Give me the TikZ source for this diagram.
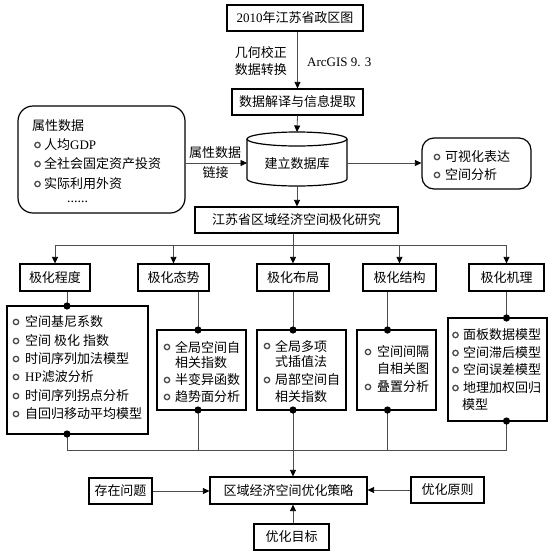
\documentclass[tikz,border=0pt]{standalone}
\usepackage{fontspec}
\setmainfont{Noto Sans CJK SC}
\newfontfamily\latf{Liberation Serif}
\usetikzlibrary{arrows.meta}
\newcommand\Lt[1]{{\latf #1}}
\begin{document}
\begin{tikzpicture}[x=1pt,y=-1pt,
  every node/.style={font=\fontsize{13}{15}\selectfont, inner sep=0pt},
  box/.style={draw=black, line width=1.2pt, minimum height=26pt},
  rbox/.style={box, rounded corners=15pt},
  shp/.style={draw=black, line width=1.2pt},
  conn/.style={draw=black!70, line width=0.8pt},
  arr/.style={conn, -{Triangle[length=6.5pt,width=6pt,color=black]}},
  bul/.style={draw=black!70, line width=1.3pt},
  txt/.style={anchor=west}
  ]
\fill[white] (0,0) rectangle (555,558);
\useasboundingbox (0,0) rectangle (555,558);

% top part
\node[box, minimum width=136pt] (top) at (295,18) {\Lt{2010}年江苏省政区图};
\node[box, minimum width=131pt] (dec) at (297.5,102) {数据解译与信息提取};
\node[anchor=east] (lab1) at (287,53) {几何校正};
\node[anchor=east] (lab2) at (287,70) {数据转换};
\node[anchor=west] (lab3) at (307,62) {\Lt{ArcGIS 9. 3}};
\draw[arr] (dec.north |- top.south) -- (dec.north);

% database cylinder
\node[minimum width=100pt, minimum height=54pt] (db) at (297,159) {};
\draw[shp] (247,139) -- (247,179) arc[start angle=180,end angle=0,x radius=50,y radius=7] -- (347,139);
\draw[shp] (297,139) ellipse [x radius=50, y radius=7];
\node (dbt) at (297,164) {建立数据库};
\coordinate (dbtop) at (297,132);
\coordinate (dbbot) at (297,186);
\coordinate (dbl) at (247,163);
\coordinate (dbr) at (347,163);
\draw[arr] (dec.south) -- (dbtop);

% attribute data box
\node[rbox, minimum width=167pt, minimum height=107pt] (attr) at (101.5,159.5) {};
\node[txt] (a0) at (32,126) {属性数据};
\foreach \y/\t [count=\i] in {145/人均\Lt{GDP}, 164/全社会固定资产投资, 184/实际利用外资}{
  \draw[bul] (37.5,\y) circle (2.7);
  \node[txt] (a\i) at (44,\y) {\t};
}
\node[anchor=base west] (adots) at (67,202) {\Lt{\fontsize{14}{15}\selectfont ......}};
\draw[arr] (attr.east |- dbl) -- (dbl);
\node (l4) at (215,153) {属性数据};
\node (l5) at (215.5,173) {链接};

% visualisation box
\node[rbox, rounded corners=12pt, minimum width=109pt, minimum height=51pt] (vis) at (476.5,163.5) {};
\foreach \y/\t [count=\i] in {157/可视化表达, 175/空间分析}{
  \draw[bul] (437,\y) circle (2.7);
  \node[txt] (v\i) at (445,\y) {\t};
}
\draw[arr] (dbr) -- (vis.west |- dbr);

% research box
\node[box, minimum width=203pt] (res) at (296.5,220) {江苏省区域经济空间极化研究};
\draw[arr] (dbbot) -- (dbbot |- res.north);
\coordinate (hub) at (293,245);
\draw[conn] (hub |- res.south) -- (hub);

% level 2
\node[box, minimum width=70pt, minimum height=27pt] (k1) at (55,277.5) {极化程度};
\node[box, minimum width=71pt, minimum height=27pt] (k2) at (173.5,277.5) {极化态势};
\node[box, minimum width=72pt, minimum height=27pt] (k3) at (293,277.5) {极化布局};
\node[box, minimum width=73pt, minimum height=27pt] (k4) at (399.5,277.5) {极化结构};
\node[box, minimum width=75pt, minimum height=27pt] (k5) at (506.5,277.5) {极化机理};
\draw[conn] (k1.north |- hub) -- (k5.north |- hub);
\foreach \k in {k1,k2,k3,k4,k5}{ \draw[arr] (\k.north |- hub) -- (\k.north); }

% detail boxes
\node[box, minimum width=141pt, minimum height=128pt] (d1) at (77.5,370) {};
\node[box, minimum width=89pt, minimum height=80pt] (d2) at (201.5,370) {};
\node[box, minimum width=89pt, minimum height=80pt] (d3) at (301.5,370) {};
\node[box, minimum width=79pt, minimum height=80pt] (d4) at (396.5,370) {};
\node[box, minimum width=99pt, minimum height=103pt] (d5) at (497.5,369.5) {};

% items A
\foreach \y/\t [count=\i] in {322/空间基尼系数, 341/空间 极化 指数, 359/时间序列加法模型, 377/\Lt{HP}滤波分析, 396/时间序列拐点分析, 414/自回归移动平均模型}{
  \draw[bul] (16,\y) circle (2.7);
  \node[txt] (e1\i) at (25,\y) {\t};
}
% items B
\foreach \y/\t [count=\i] in {347/全局空间自, 380/半变异函数, 397/趋势面分析}{
  \draw[bul] (167,\y) circle (2.7);
  \node[txt] (e2\i) at (175,\y) {\t};
}
\node[txt] (e2x) at (175,363) {相关指数};
% items C
\foreach \y/\t [count=\i] in {346/全局多项, 380/局部空间自}{
  \draw[bul] (267,\y) circle (2.7);
  \node[txt] (e3\i) at (275,\y) {\t};
}
\node[txt] (e3x) at (275,362) {式插值法};
\node[txt] (e3y) at (275,397) {相关指数};
% items D
\foreach \y/\t [count=\i] in {352/空间间隔, 387/叠置分析}{
  \draw[bul] (368,\y) circle (2.7);
  \node[txt] (e4\i) at (377,\y) {\t};
}
\node[txt] (e4x) at (377,369) {自相关图};
% items E
\foreach \y/\t [count=\i] in {335/面板数据模型, 353/空间滞后模型, 370/空间误差模型, 388/地理加权回归}{
  \draw[bul] (455.5,\y) circle (2.7);
  \node[txt] (e5\i) at (463,\y) {\t};
}
\node[txt] (e5x) at (462,405) {模型};

% junctions
\coordinate (t1) at (67,306);   \coordinate (b1) at (67,434);
\coordinate (t2) at (198,330);  \coordinate (b2) at (198,410);
\coordinate (t3) at (293,330);  \coordinate (b3) at (293,410);
\coordinate (t4) at (387.5,330); \coordinate (b4) at (387.5,410);
\coordinate (t5) at (506.5,318); \coordinate (b5) at (506.5,421);
\coordinate (bl) at (0,450);
\draw[conn] (t1 |- k1.south) -- (t1);
\draw[conn] (t2 |- k2.south) -- (t2);
\draw[conn] (t3 |- k3.south) -- (t3);
\draw[conn] (t4 |- k4.south) -- (t4);
\draw[conn] (t5 |- k5.south) -- (t5);

% final row
\node[box, minimum width=157pt, minimum height=27pt] (fin) at (288.5,490.5) {区域经济空间优化策略};
\node[box, minimum width=63pt] (prob) at (120.5,491) {存在问题};
\node[box, minimum width=73pt] (prin) at (447.5,490) {优化原则};
\node[box, minimum width=75pt] (goal) at (291.5,537) {优化目标};

\draw[conn] (b1) -- (b1 |- bl) -- (b5 |- bl) -- (b5);
\draw[conn] (b2) -- (b2 |- bl);
\draw[conn] (b4) -- (b4 |- bl);
\draw[arr] (b3) -- (b3 |- fin.north);
\draw[arr] (prob.east) -- (fin.west |- prob.east);
\draw[arr] (prin.west) -- (fin.east |- prin.west);
\draw[arr] (b3 |- goal.north) -- (b3 |- fin.south);

\foreach \p in {t1,t2,t3,t4,t5,b1,b2,b3,b4,b5}{ \fill (\p) circle (3.6); }
\end{tikzpicture}
\end{document}
